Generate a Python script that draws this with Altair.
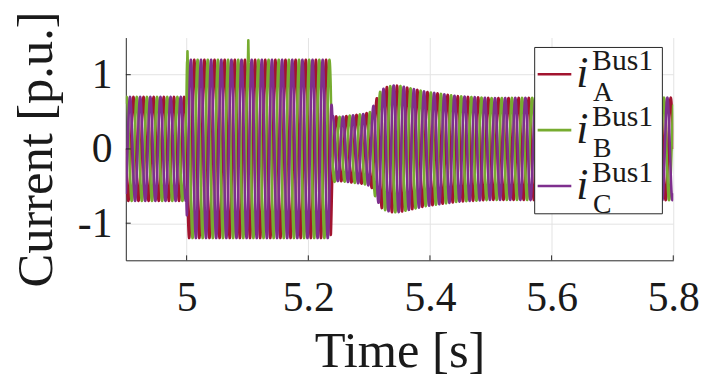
import numpy as np
import pandas as pd
import altair as alt

# ---------------- data ----------------
FREQ_HZ = 60
PHASE_NAMES = ["A", "B", "C"]
PHASE_SHIFT_DEG = [180, 60, -60]
COLORS = ["#A2142F", "#77AC30", "#7E2F8E"]

# envelope (peak amplitude, p.u.) of the three phase currents
ENV_T = [4.90, 4.9995, 5.0005, 5.237, 5.2395, 5.25, 5.29, 5.303, 5.311, 5.3195,
         5.3276, 5.339, 5.35, 5.393, 5.446, 5.50, 5.60, 5.80]
ENV_AMP = [0.70, 0.70, 1.20, 1.20, 0.45, 0.43, 0.47, 0.50, 0.66, 0.79,
           0.83, 0.855, 0.85, 0.77, 0.71, 0.685, 0.69, 0.69]

# short spikes seen on phase B
SPIKE_PHASE = ["B", "B"]
SPIKE_T = [5.0014, 5.1014]
SPIKE_AMP = [1.32, 1.47]

X_TICKS = [5.0, 5.2, 5.4, 5.6, 5.8]
Y_TICKS = [-1, 0, 1]
T_START, T_END = 4.9, 5.8

# ---------------- build table ----------------
n_cycles = int(round((T_END - T_START) * FREQ_HZ))
t = np.linspace(T_START, T_END, n_cycles * 48 + 1)
frames = []
for name, shift in zip(PHASE_NAMES, PHASE_SHIFT_DEG):
    env = np.interp(t, ENV_T, ENV_AMP)
    for sp, ts, sa in zip(SPIKE_PHASE, SPIKE_T, SPIKE_AMP):
        if sp == name:
            w = 0.003
            env = np.maximum(env, np.interp(t, [ts - w, ts, ts + w], [0.0, sa, 0.0]))
    val = env * np.sin(2 * np.pi * FREQ_HZ * t + np.deg2rad(shift))
    frames.append(pd.DataFrame({"time": t, "value": val, "phase": name}))
df = pd.concat(frames, ignore_index=True)

FONT = "Liberation Serif"
TXT = "#1a1a1a"
GRID = "#e3e3e3"
AX = "#262626"

W, H = 553, 225

x_scale = alt.Scale(domain=[T_START, T_END], nice=False, zero=False)
y_scale = alt.Scale(domain=[-1.5, 1.5], nice=False, zero=False)

x_axis = alt.Axis(values=X_TICKS, format="~g", title="Time [s]", grid=True,
                  gridColor=GRID, gridWidth=1, domainColor=AX, domainWidth=1,
                  ticks=False, tickSize=0, labelFont=FONT, labelFontSize=42,
                  labelColor=TXT, labelBaseline="alphabetic", labelPadding=51,
                  labelFlush=False, labelOverlap=False,
                  titleFont=FONT, titleFontSize=51, titleFontWeight="normal",
                  titleColor=TXT, titleBaseline="alphabetic", titleY=107)
y_axis = alt.Axis(values=Y_TICKS, labelExpr="toString(datum.value)", title="Current [p.u.]",
                  grid=True, gridColor=GRID, gridWidth=1, domainColor=AX, domainWidth=1,
                  ticks=False, tickSize=0, labelFont=FONT, labelFontSize=42,
                  labelColor=TXT, labelPadding=14, labelOverlap=False,
                  titleFont=FONT, titleFontSize=51, titleFontWeight="normal",
                  titleColor=TXT, titleAngle=270, titleAlign="center",
                  titleBaseline="alphabetic", titleX=-75, titleY=H / 2)

lines = alt.Chart(df).mark_line(strokeWidth=2.6, clip=True, strokeJoin="round").encode(
    x=alt.X("time:Q", scale=x_scale, axis=x_axis),
    y=alt.Y("value:Q", scale=y_scale, axis=y_axis),
    color=alt.Color("phase:N", scale=alt.Scale(domain=PHASE_NAMES, range=COLORS), legend=None),
)

xt = alt.Chart(pd.DataFrame({"time": X_TICKS})).mark_rule(color=AX, strokeWidth=1).encode(
    x=alt.X("time:Q", scale=x_scale), y=alt.value(H), y2=alt.value(H - 5))
yt = alt.Chart(pd.DataFrame({"value": Y_TICKS})).mark_rule(color=AX, strokeWidth=1).encode(
    y=alt.Y("value:Q", scale=y_scale), x=alt.value(0), x2=alt.value(5))

one = pd.DataFrame({"k": [0]})
legend_layers = [
    alt.Chart(one).mark_rect(fill="white", stroke=AX, strokeWidth=1).encode(
        x=alt.value(413), x2=alt.value(542), y=alt.value(10), y2=alt.value(178))
]
for k, (name, col) in enumerate(zip(PHASE_NAMES, COLORS)):
    ry = 37 + 56.5 * k
    legend_layers.append(alt.Chart(one).mark_rule(color=col, strokeWidth=2.6).encode(
        x=alt.value(416), x2=alt.value(450), y=alt.value(ry)))
    legend_layers.append(alt.Chart(one).mark_text(
        text="i", font=FONT, fontStyle="italic", fontSize=44, align="left",
        baseline="alphabetic", color=TXT).encode(x=alt.value(455), y=alt.value(ry + 13)))
    legend_layers.append(alt.Chart(one).mark_text(
        text="Bus1", font=FONT, fontSize=30, align="left",
        baseline="alphabetic", color=TXT).encode(x=alt.value(471), y=alt.value(ry - 4)))
    legend_layers.append(alt.Chart(one).mark_text(
        text=name, font=FONT, fontSize=28, align="left",
        baseline="alphabetic", color=TXT).encode(x=alt.value(472), y=alt.value(ry + 27)))

chart = alt.layer(lines, xt, yt, *legend_layers).properties(
    width=W, height=H,
    padding={"left": 119, "top": 28, "right": 28, "bottom": 116},
    autosize=alt.AutoSizeParams(type="none"),
).configure_view(stroke=None)

chart.save("out.html", embed_options={"renderer": "svg", "actions": False})
